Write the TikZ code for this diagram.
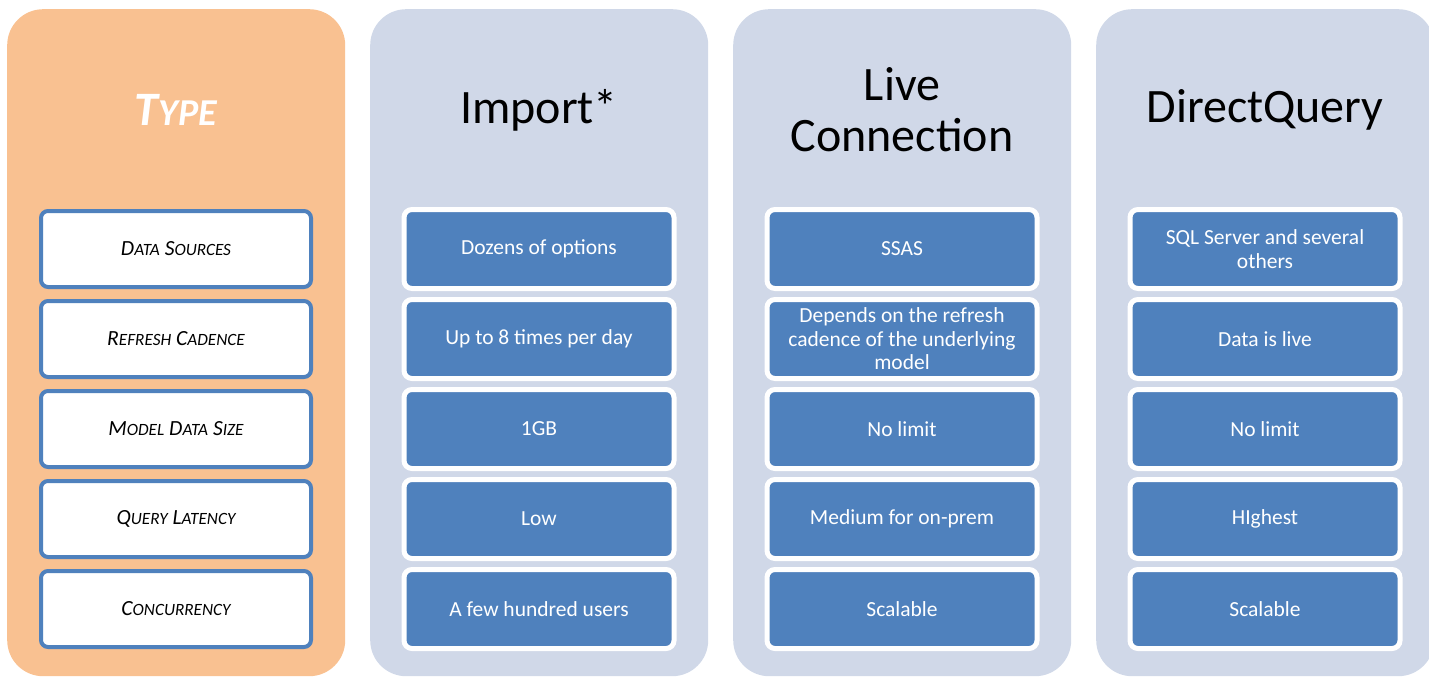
\documentclass[tikz,border=0pt]{standalone}
\usepackage{fontspec}
\setmainfont{Carlito}
\definecolor{typeorange}{HTML}{F9C191}
\definecolor{colgrey}{HTML}{D0D8E8}
\definecolor{cellblue}{HTML}{4F81BD}
% Word-style small caps: full-size initial, scaled-down remainder
\newcommand\fakesc[2]{#1{\fontsize{17.2}{20}\selectfont #2}}
\newcommand\bigsc[2]{#1{\fontsize{38}{40}\selectfont #2}}
\tikzset{
  column/.style={rounded corners=36pt, inner sep=0pt, minimum width=338pt, minimum height=667pt, anchor=north west},
  typecol/.style={column, fill=typeorange},
  modecol/.style={column, fill=colgrey},
  header/.style={font=\fontsize{48}{51}\selectfont, align=center, text=black},
  rowlabel/.style={draw=cellblue, line width=4pt, fill=white, rounded corners=7pt,
    minimum width=270pt, minimum height=76pt, inner sep=0pt,
    font=\fontsize{21.6}{24}\selectfont\itshape, text=black},
  cell/.style={draw=white, line width=5pt, fill=cellblue, rounded corners=8pt,
    minimum width=270pt, minimum height=79pt, inner sep=0pt, align=center,
    font=\fontsize{21.5}{23.5}\selectfont, text=white}
}
\begin{document}
\begin{tikzpicture}[x=1pt,y=-1pt]
\useasboundingbox (0,0) rectangle (1429,677);

% column backgrounds
\node[typecol] (ctype) at (7,9) {};
\node[modecol] (cimport) at (370,9) {};
\node[modecol] (clive) at (733,9) {};
\node[modecol] (cdq) at (1096,9) {};

% column headings
\node[header, text=white, font=\fontsize{48}{51}\selectfont\bfseries\itshape] (htype) at (176,110) {\bigsc{T}{YPE}};
\node[header] (himport) at (539,110) {Import*};
\node[header] (hlive) at (902,110) {Live\\Connection};
\node[header] (hdq) at (1265,110) {DirectQuery};

% row labels
\node[rowlabel] (rsrc) at (176,249) {\fakesc{D}{ATA} \fakesc{S}{OURCES}};
\node[rowlabel] (rref) at (176,339) {\fakesc{R}{EFRESH} \fakesc{C}{ADENCE}};
\node[rowlabel] (rsize) at (176,429) {\fakesc{M}{ODEL} \fakesc{D}{ATA} \fakesc{S}{IZE}};
\node[rowlabel] (rlat) at (176,519) {\fakesc{Q}{UERY} \fakesc{L}{ATENCY}};
\node[rowlabel] (rcon) at (176,609) {\fakesc{C}{ONCURRENCY}};

% Import
\node[cell] (isrc) at (539,249) {Dozens of options};
\node[cell] (iref) at (539,339) {Up to 8 times per day};
\node[cell] (isize) at (539,429) {1GB};
\node[cell] (ilat) at (539,519) {Low};
\node[cell] (icon) at (539,609) {A few hundred users};

% Live Connection
\node[cell] (lsrc) at (902,249) {SSAS};
\node[cell] (lref) at (902,339) {Depends on the refresh\\cadence of the underlying\\model};
\node[cell] (lsize) at (902,429) {No limit};
\node[cell] (llat) at (902,519) {Medium for on-prem};
\node[cell] (lcon) at (902,609) {Scalable};

% DirectQuery
\node[cell] (dsrc) at (1265,249) {SQL Server and several\\others};
\node[cell] (dref) at (1265,339) {Data is live};
\node[cell] (dsize) at (1265,429) {No limit};
\node[cell] (dlat) at (1265,519) {HIghest};
\node[cell] (dcon) at (1265,609) {Scalable};
\end{tikzpicture}
\end{document}
